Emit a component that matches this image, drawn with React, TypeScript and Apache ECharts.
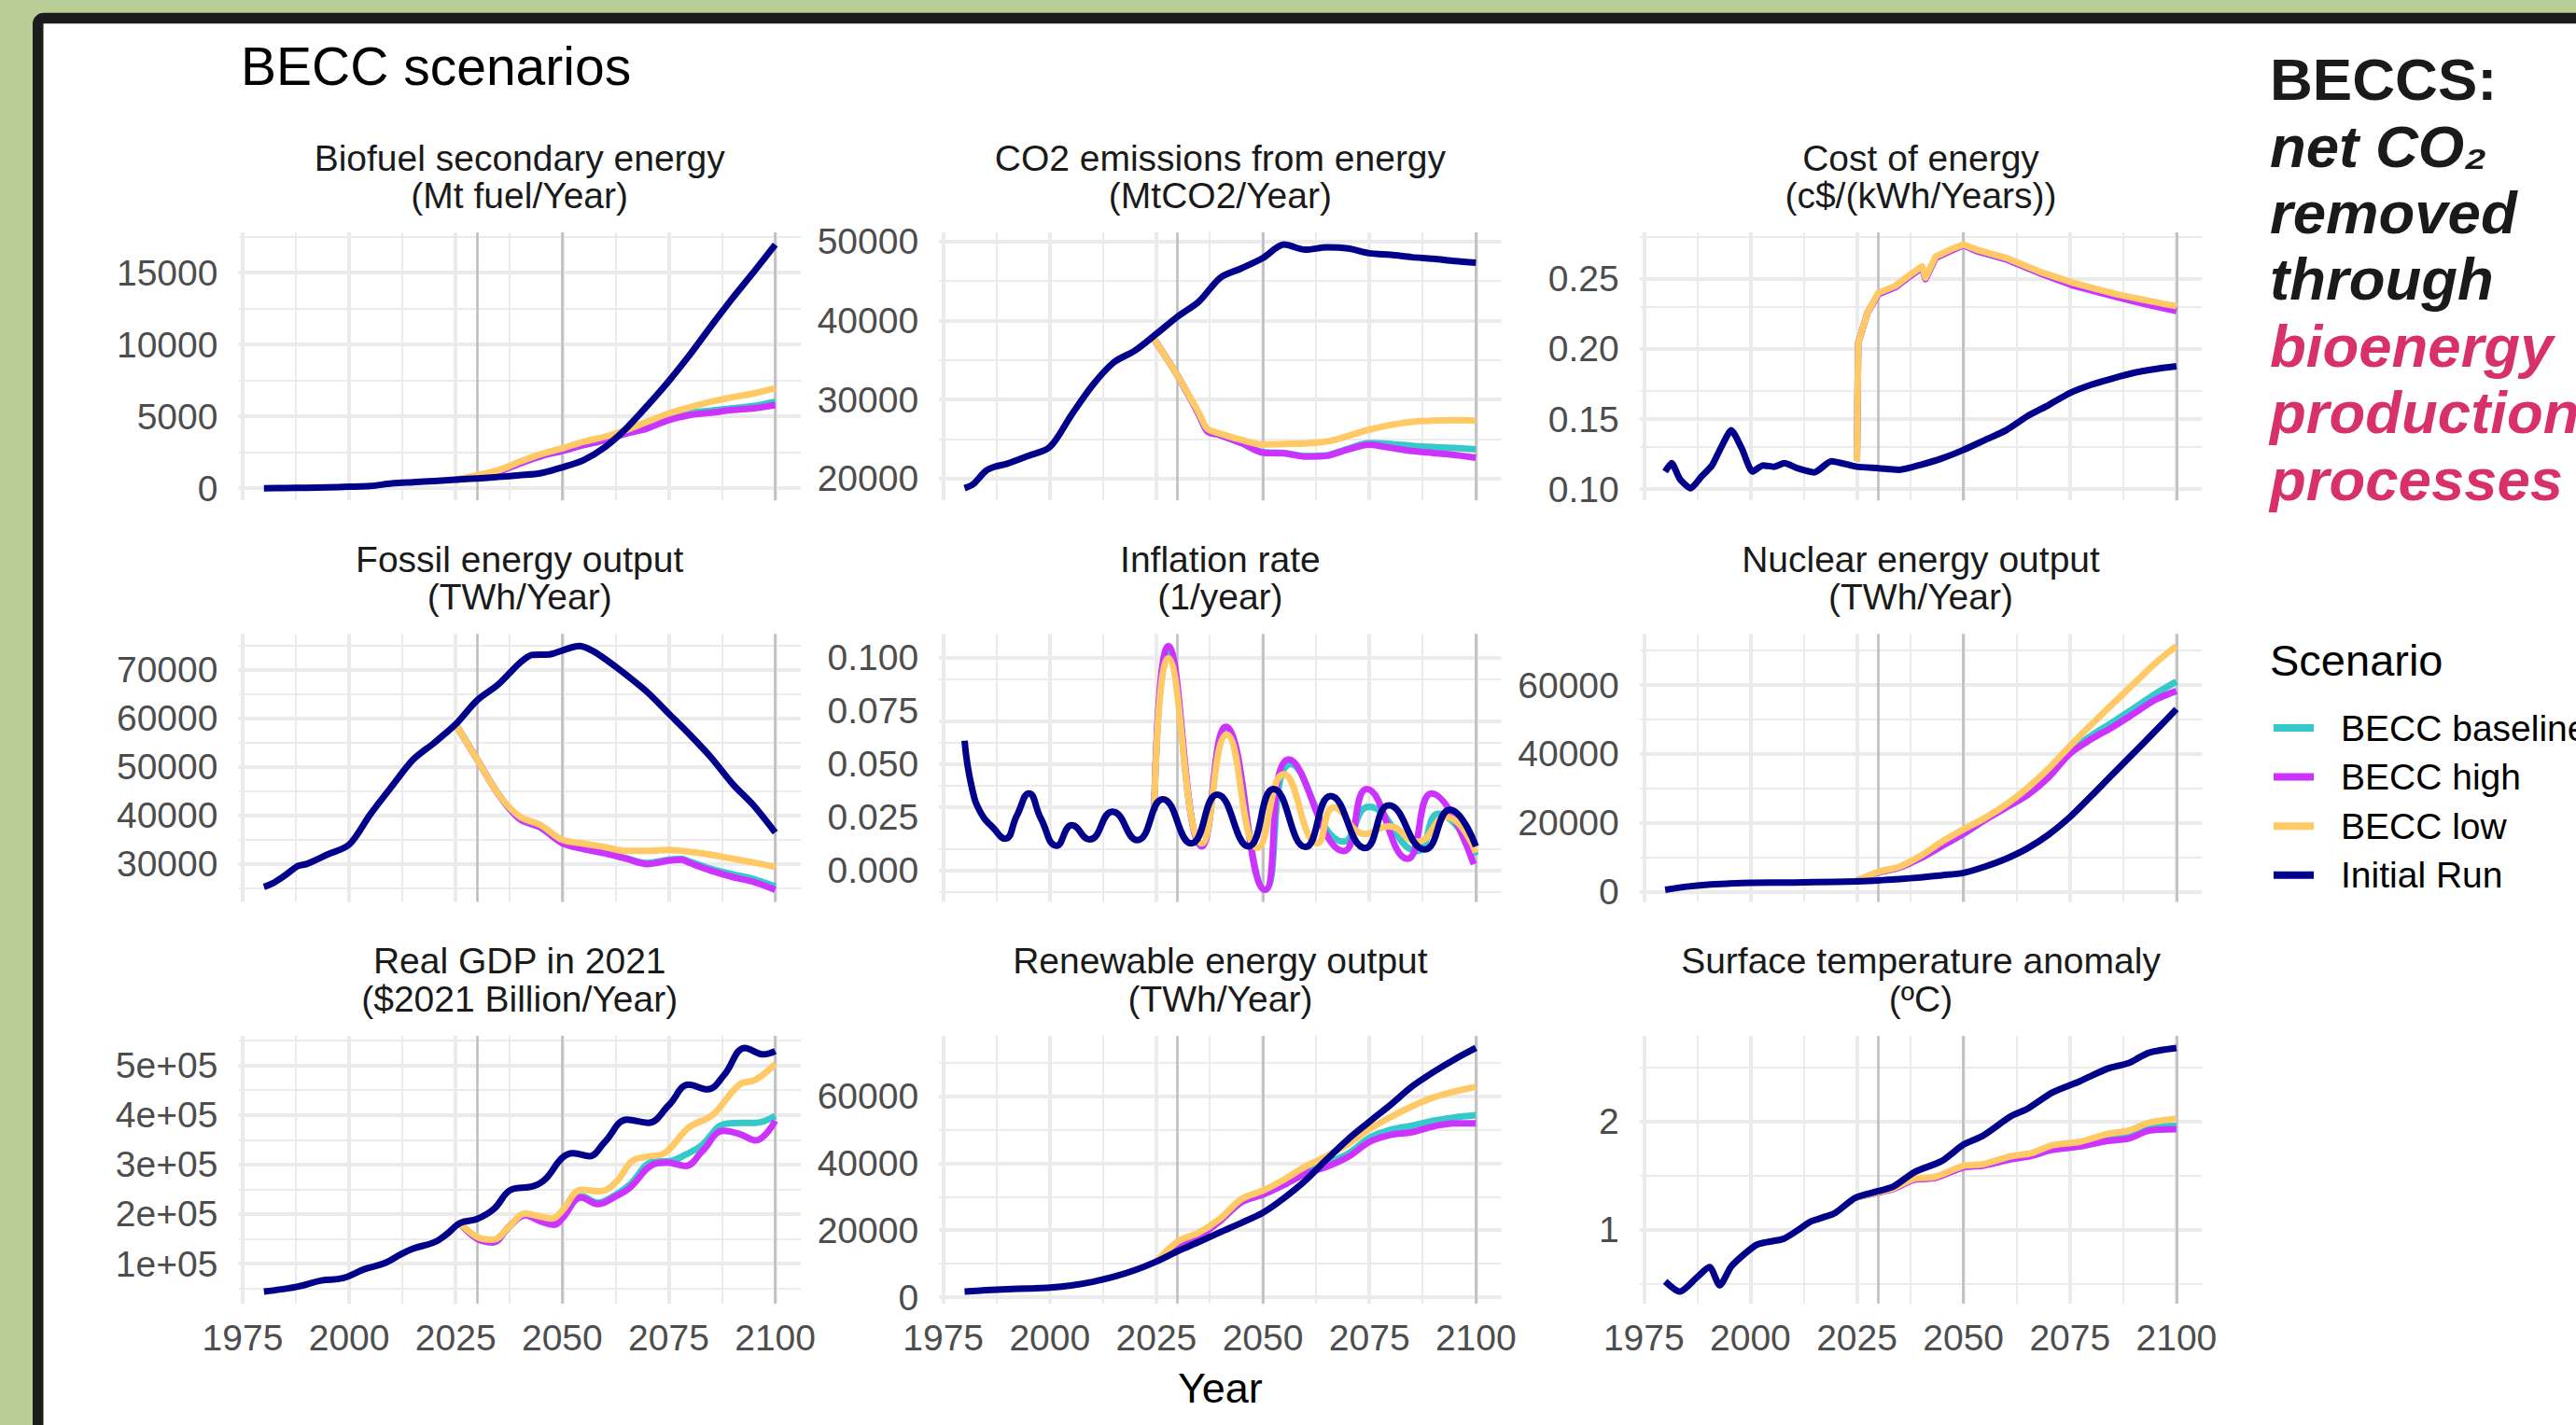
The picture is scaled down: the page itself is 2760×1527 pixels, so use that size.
import React, { useEffect, useRef } from 'react';
import * as echarts from 'echarts';

// ---------------- legend / scenarios ----------------
const SCENARIOS = ['BECC baseline', 'BECC high', 'BECC low', 'Initial Run'];
const COLORS = ['#35c9c9', '#cc33ff', '#ffc966', '#00008b'];

// ---------------- x axis ticks ----------------
const X_MIN = 1974;
const X_MAX = 2106;
const X_MAJOR = [1975, 2000, 2025, 2050, 2075, 2100];
const X_MINOR = [1987.5, 2012.5, 2037.5, 2062.5, 2087.5];
const X_VLINES = [2030, 2050, 2100];

// ---------------- Biofuel secondary energy ----------------
const bioInitYears = [1980, 1985, 1990, 1995, 2000, 2005, 2010, 2015, 2020, 2025, 2030, 2035, 2040, 2045, 2050, 2055, 2060, 2065, 2070, 2075, 2080, 2085, 2090, 2095, 2100];
const bioInit = [0, 10, 30, 60, 100, 150, 330, 420, 500, 600, 680, 780, 900, 1050, 1450, 1950, 2850, 4150, 5750, 7450, 9300, 11300, 13230, 15060, 16950];
const bioScenYears = [2025, 2030, 2035, 2040, 2045, 2050, 2055, 2060, 2065, 2070, 2075, 2080, 2085, 2090, 2095, 2100];
const bioBase = [600, 800, 1140, 1720, 2230, 2600, 3000, 3350, 3800, 4200, 4860, 5250, 5400, 5560, 5720, 6020];
const bioHigh = [600, 800, 1140, 1720, 2230, 2600, 3000, 3350, 3800, 4160, 4740, 5090, 5250, 5440, 5560, 5790];
const bioLow = [600, 900, 1250, 1840, 2370, 2770, 3230, 3580, 4050, 4630, 5200, 5630, 6020, 6330, 6600, 6950];
const bioYMajor = [0, 5000, 10000, 15000];
const bioYMinor = [-2500, 2500, 7500, 12500, 17500];

// ---------------- CO2 emissions from energy ----------------
const co2InitYears = [1980, 1982, 1985, 1987, 1990, 1995, 2000, 2005, 2010, 2015, 2020, 2025, 2030, 2035, 2040, 2045, 2050, 2055, 2060, 2065, 2070, 2075, 2080, 2085, 2090, 2095, 2100];
const co2Init = [18800, 19300, 21000, 21500, 21900, 22900, 24000, 28000, 31800, 34700, 36200, 38300, 40500, 42400, 45400, 46600, 47900, 49600, 48950, 49240, 49100, 48500, 48300, 48000, 47800, 47500, 47300];
const co2ScenYears = [2024.5, 2030, 2035, 2037, 2040, 2045, 2050, 2055, 2060, 2065, 2070, 2075, 2080, 2085, 2090, 2095, 2100];
const co2Base = [37600, 33000, 28100, 26000, 25500, 24500, 23350, 23250, 22850, 22950, 23800, 24500, 24400, 24150, 24000, 23900, 23700];
const co2High = [37600, 33000, 28100, 26000, 25500, 24500, 23300, 23200, 22800, 22900, 23700, 24300, 23900, 23500, 23250, 23000, 22650];
const co2Low = [37600, 33000, 28300, 26300, 25700, 24900, 24330, 24400, 24450, 24700, 25400, 26200, 26800, 27200, 27350, 27400, 27350];
const co2YMajor = [20000, 30000, 40000, 50000];
const co2YMinor = [15000, 25000, 35000, 45000, 55000];

// ---------------- Cost of energy ----------------
const costInitYears = [1980, 1981.5, 1983.5, 1986, 1988.5, 1991, 1993, 1995.5, 1998, 2000.5, 2003, 2005.5, 2008, 2011, 2015, 2019, 2025, 2030, 2035, 2040, 2045, 2050, 2055, 2060, 2065, 2070, 2075, 2080, 2085, 2090, 2095, 2100];
const costInit = [0.1126, 0.1186, 0.107, 0.1007, 0.109, 0.117, 0.129, 0.142, 0.129, 0.1126, 0.117, 0.116, 0.1186, 0.115, 0.112, 0.12, 0.116, 0.115, 0.1138, 0.1174, 0.122, 0.128, 0.135, 0.142, 0.152, 0.16, 0.1686, 0.1745, 0.179, 0.183, 0.1857, 0.1876];
const costScenYears = [2025, 2025.3, 2027.5, 2030, 2034, 2037, 2040.3, 2041.1, 2043.5, 2047, 2050, 2053, 2060, 2068, 2076, 2086, 2094, 2100];
const costBase = [0.12, 0.204, 0.226, 0.239, 0.244, 0.251, 0.258, 0.25, 0.265, 0.27, 0.274, 0.27, 0.264, 0.254, 0.246, 0.238, 0.232, 0.228];
const costHigh = [0.12, 0.204, 0.226, 0.239, 0.244, 0.251, 0.258, 0.25, 0.265, 0.27, 0.274, 0.27, 0.264, 0.254, 0.245, 0.237, 0.231, 0.227];
const costLow = [0.12, 0.204, 0.226, 0.24, 0.245, 0.252, 0.259, 0.251, 0.266, 0.271, 0.2745, 0.271, 0.265, 0.255, 0.247, 0.239, 0.234, 0.2305];
const costYMajor = [0.1, 0.15, 0.2, 0.25];
const costYMinor = [0.075, 0.125, 0.175, 0.225, 0.275];

// ---------------- Fossil energy output ----------------
const fossilInitYears = [1980, 1982, 1985, 1988, 1990, 1995, 2000, 2005, 2010, 2015, 2020, 2025, 2030, 2035, 2040, 2043, 2047, 2050, 2054, 2057, 2060, 2065, 2070, 2075, 2080, 2085, 2090, 2095, 2100];
const fossilInit = [25300, 26000, 27700, 29600, 30000, 32000, 34000, 40300, 46000, 51500, 55000, 58800, 63700, 67000, 71400, 73100, 73200, 74000, 74900, 74000, 72300, 69000, 65400, 61000, 56600, 51900, 46500, 42000, 36500];
const fossilScenYears = [2025, 2030, 2035, 2040, 2045, 2050, 2055, 2060, 2065, 2070, 2075, 2078, 2080, 2085, 2090, 2095, 2100];
const fossilBase = [58800, 51600, 44400, 39300, 37500, 34400, 33200, 32300, 31200, 30200, 30900, 31100, 30500, 29000, 27900, 26900, 25400];
const fossilHigh = [58800, 51600, 44400, 39300, 37500, 34300, 33100, 32200, 31100, 30000, 30700, 30900, 30200, 28600, 27300, 26300, 24700];
const fossilLow = [58800, 51600, 44400, 39800, 38000, 35000, 34200, 33500, 32700, 32700, 32900, 32700, 32500, 31900, 31100, 30300, 29400];
const fossilYMajor = [30000, 40000, 50000, 60000, 70000];
const fossilYMinor = [25000, 35000, 45000, 55000, 65000, 75000];

// ---------------- Inflation rate ----------------
const inflInitYears = [1980, 1981.7, 1983.9, 1986.7, 1989.5, 1992.3, 1995.1, 1997.9, 2001.6, 2005.2, 2009.3, 2014.7, 2020.5, 2026.5, 2033.2, 2039.3, 2046.6, 2052.5, 2060, 2065.9, 2074, 2079.6, 2088, 2093.9, 2100];
const inflInit = [0.061, 0.039, 0.0267, 0.0201, 0.015, 0.026, 0.0362, 0.0245, 0.0117, 0.0213, 0.0146, 0.0277, 0.0143, 0.0335, 0.0128, 0.0357, 0.0114, 0.0383, 0.0111, 0.035, 0.0106, 0.0306, 0.0099, 0.0286, 0.0114];
const inflBaseYears = [2024.5, 2027.8, 2035.7, 2041.4, 2050.6, 2056.6, 2069, 2074.9, 2086.2, 2091.2, 2100];
const inflBase = [0.028, 0.103, 0.012, 0.066, -0.009, 0.05, 0.0136, 0.03, 0.0092, 0.0267, 0.007];
const inflHighYears = [2024.5, 2027.8, 2035.7, 2041.3, 2050.5, 2056.1, 2069, 2074.4, 2083.9, 2089.6, 2099.5];
const inflHigh = [0.028, 0.1054, 0.0114, 0.0675, -0.009, 0.0522, 0.0092, 0.0383, 0.0055, 0.0362, 0.003];
const inflLowYears = [2024.5, 2027.8, 2035.7, 2041.5, 2048.8, 2054.9, 2062.8, 2066.7, 2074, 2079.5, 2086.2, 2093, 2100];
const inflLow = [0.028, 0.0996, 0.0128, 0.0638, 0.0106, 0.0452, 0.0128, 0.0296, 0.0172, 0.0208, 0.0136, 0.0252, 0.0085];
const inflYMajor = [0, 0.025, 0.05, 0.075, 0.1];
const inflYMinor = [-0.0125, 0.0125, 0.0375, 0.0625, 0.0875, 0.1125];

// ---------------- Nuclear energy output ----------------
const nucInitYears = [1980, 1985, 1990, 1995, 2000, 2010, 2020, 2025, 2030, 2035, 2040, 2045, 2050, 2055, 2060, 2065, 2070, 2075, 2080, 2085, 2090, 2095, 2100];
const nucInit = [600, 1500, 2100, 2400, 2600, 2700, 2900, 3050, 3300, 3700, 4200, 4800, 5500, 7300, 9600, 12600, 16600, 21700, 27800, 34100, 40300, 46600, 53000];
const nucScenYears = [2025, 2030, 2035, 2040, 2045, 2050, 2055, 2060, 2065, 2070, 2075, 2080, 2085, 2090, 2095, 2100];
const nucBase = [3200, 5600, 7000, 9800, 13300, 16800, 20900, 24600, 28300, 33700, 40800, 45300, 49200, 53300, 57400, 61000];
const nucHigh = [3200, 5600, 7000, 9800, 13300, 16800, 20800, 24400, 28000, 33200, 40100, 44300, 47800, 51700, 55700, 58300];
const nucLow = [3200, 5800, 7300, 10500, 14600, 18100, 21400, 25300, 30100, 35800, 42300, 48500, 54500, 60400, 66300, 71300];
const nucYMajor = [0, 20000, 40000, 60000];
const nucYMinor = [-10000, 10000, 30000, 50000, 70000];

// ---------------- Real GDP in 2021 ----------------
const gdpInitYears = [1980, 1984, 1988, 1993.5, 1998.5, 2003.5, 2008.5, 2012, 2015, 2020, 2023, 2026, 2030, 2034, 2038, 2043, 2046, 2050, 2052.6, 2056.4, 2060, 2065.2, 2070.2, 2075, 2079.7, 2084.1, 2088, 2092.9, 2097.3, 2100];
const gdpInit = [43400, 48000, 53500, 65900, 70400, 88400, 101300, 118000, 130200, 143100, 160000, 181700, 190000, 210600, 249000, 255600, 270000, 313500, 323000, 316700, 345600, 390600, 384200, 419600, 461400, 451700, 480600, 535300, 522400, 528900];
const gdpBaseYears = [2026, 2030, 2033.7, 2037.5, 2041.3, 2045, 2048.2, 2050, 2054.5, 2058.3, 2062.7, 2065.8, 2071.5, 2075.3, 2079, 2082.8, 2087.8, 2091.6, 2095.4, 2100];
const gdpBase = [181700, 150500, 143000, 174000, 197700, 186000, 180000, 193000, 236000, 223000, 240000, 258800, 305800, 307000, 320000, 339000, 381000, 384200, 384200, 398000];
const gdpHighYears = [2026, 2030, 2033.7, 2037.5, 2041.3, 2045, 2048.2, 2050, 2054.5, 2058.3, 2062.7, 2065.8, 2071.5, 2074.6, 2079, 2082.8, 2087.8, 2091.6, 2095.4, 2100];
const gdpHigh = [181700, 150500, 143000, 174000, 197700, 185000, 178400, 191300, 233100, 220200, 236300, 252400, 300600, 304000, 297000, 326000, 368000, 361700, 348800, 388000];
const gdpLowYears = [2026, 2030, 2033.7, 2037.5, 2041.3, 2045, 2047.6, 2050, 2054.5, 2058.9, 2062.7, 2066.4, 2070, 2074, 2079.7, 2085.3, 2091.6, 2095.4, 2100];
const gdpLow = [181700, 154000, 148000, 174000, 201000, 194500, 191000, 207000, 249000, 246000, 265000, 307000, 316000, 323000, 374600, 400300, 461400, 471000, 503000];
const gdpYMajor = [100000, 200000, 300000, 400000, 500000];
const gdpYMinor = [50000, 150000, 250000, 350000, 450000, 550000];

// ---------------- Renewable energy output ----------------
const renInitYears = [1980, 1985, 1990, 1995, 2000, 2005, 2010, 2015, 2020, 2025, 2030, 2035, 2040, 2045, 2050, 2055, 2060, 2065, 2070, 2075, 2080, 2085, 2090, 2095, 2100];
const renInit = [1700, 2100, 2400, 2650, 2880, 3500, 4600, 6100, 8100, 10650, 13730, 16500, 19400, 22200, 25200, 29600, 34800, 41100, 47100, 52300, 57400, 62800, 67100, 70900, 74300];
const renScenYears = [2025, 2030, 2035, 2040, 2045, 2050, 2055, 2060, 2065, 2070, 2075, 2080, 2085, 2090, 2095, 2100];
const renBase = [10650, 15500, 18100, 22800, 28400, 30600, 33800, 37400, 39900, 42800, 47500, 49900, 51150, 52600, 53600, 54250];
const renHigh = [10650, 15500, 18100, 22800, 28400, 30600, 33500, 36800, 38900, 41800, 46300, 48400, 49200, 50900, 51800, 51850];
const renLow = [10650, 16600, 19300, 23500, 29300, 31800, 35100, 39000, 42100, 45700, 50100, 53700, 56900, 59500, 61300, 62700];
const renYMajor = [0, 20000, 40000, 60000];
const renYMinor = [10000, 30000, 50000, 70000];

// ---------------- Surface temperature anomaly ----------------
const tempInitYears = [1980, 1983.4, 1987.5, 1990.4, 1992.8, 1995.6, 2001.2, 2003.7, 2007.7, 2011, 2014.2, 2017, 2019.9, 2024.7, 2029.9, 2033.6, 2038.5, 2044.9, 2050.1, 2054.7, 2061.1, 2065.2, 2070.9, 2077.3, 2083.8, 2088.7, 2093.5, 2100];
const tempInit = [0.52, 0.426, 0.559, 0.653, 0.485, 0.662, 0.853, 0.882, 0.912, 0.99, 1.074, 1.11, 1.153, 1.294, 1.353, 1.397, 1.529, 1.632, 1.785, 1.868, 2.044, 2.118, 2.265, 2.368, 2.485, 2.535, 2.632, 2.676];
const tempScenYears = [2024.7, 2029.9, 2033.6, 2038.5, 2043.3, 2050.1, 2054.7, 2061.1, 2066, 2070.9, 2077.3, 2083.8, 2088.7, 2093.5, 2100];
const tempBase = [1.294, 1.341, 1.377, 1.462, 1.478, 1.578, 1.594, 1.655, 1.688, 1.745, 1.778, 1.835, 1.858, 1.94, 1.956];
const tempHigh = [1.294, 1.34, 1.375, 1.46, 1.475, 1.574, 1.59, 1.647, 1.68, 1.735, 1.765, 1.818, 1.838, 1.912, 1.926];
const tempLow = [1.294, 1.344, 1.382, 1.47, 1.485, 1.588, 1.603, 1.676, 1.706, 1.779, 1.809, 1.882, 1.912, 1.985, 2.024];
const tempYMajor = [1, 2];
const tempYMinor = [0.5, 1.5, 2.5];

// ---------------- formatting ----------------
const fmtPlain = (v: number) => String(v);
const fmt2 = (v: number) => v.toFixed(2);
const fmt3 = (v: number) => v.toFixed(3);
const fmtSci = (v: number) => v.toExponential(0).replace(/e\+(\d)$/, 'e+0$1');

type Panel = {
  title: string;
  series: [number[], number[]][];
  yMajor: number[];
  yMinor: number[];
  fmt: (v: number) => string;
  smooth: (number | boolean)[];
};

const panels: Panel[] = [
  { title: 'Biofuel secondary energy\n(Mt fuel/Year)', series: [[bioScenYears, bioBase], [bioScenYears, bioHigh], [bioScenYears, bioLow], [bioInitYears, bioInit]], yMajor: bioYMajor, yMinor: bioYMinor, fmt: fmtPlain, smooth: [0.3, 0.3, 0.3, 0.3] },
  { title: 'CO2 emissions from energy\n(MtCO2/Year)', series: [[co2ScenYears, co2Base], [co2ScenYears, co2High], [co2ScenYears, co2Low], [co2InitYears, co2Init]], yMajor: co2YMajor, yMinor: co2YMinor, fmt: fmtPlain, smooth: [0.3, 0.3, 0.3, 0.3] },
  { title: 'Cost of energy\n(c$/(kWh/Years))', series: [[costScenYears, costBase], [costScenYears, costHigh], [costScenYears, costLow], [costInitYears, costInit]], yMajor: costYMajor, yMinor: costYMinor, fmt: fmt2, smooth: [false, false, false, 0.2] },
  { title: 'Fossil energy output\n(TWh/Year)', series: [[fossilScenYears, fossilBase], [fossilScenYears, fossilHigh], [fossilScenYears, fossilLow], [fossilInitYears, fossilInit]], yMajor: fossilYMajor, yMinor: fossilYMinor, fmt: fmtPlain, smooth: [0.3, 0.3, 0.3, 0.3] },
  { title: 'Inflation rate\n(1/year)', series: [[inflBaseYears, inflBase], [inflHighYears, inflHigh], [inflLowYears, inflLow], [inflInitYears, inflInit]], yMajor: inflYMajor, yMinor: inflYMinor, fmt: fmt3, smooth: [0.5, 0.5, 0.5, 0.5] },
  { title: 'Nuclear energy output\n(TWh/Year)', series: [[nucScenYears, nucBase], [nucScenYears, nucHigh], [nucScenYears, nucLow], [nucInitYears, nucInit]], yMajor: nucYMajor, yMinor: nucYMinor, fmt: fmtPlain, smooth: [0.3, 0.3, 0.3, 0.3] },
  { title: 'Real GDP in 2021\n($2021 Billion/Year)', series: [[gdpBaseYears, gdpBase], [gdpHighYears, gdpHigh], [gdpLowYears, gdpLow], [gdpInitYears, gdpInit]], yMajor: gdpYMajor, yMinor: gdpYMinor, fmt: fmtSci, smooth: [0.4, 0.4, 0.4, 0.4] },
  { title: 'Renewable energy output\n(TWh/Year)', series: [[renScenYears, renBase], [renScenYears, renHigh], [renScenYears, renLow], [renInitYears, renInit]], yMajor: renYMajor, yMinor: renYMinor, fmt: fmtPlain, smooth: [0.3, 0.3, 0.3, 0.3] },
  { title: 'Surface temperature anomaly\n(ºC)', series: [[tempScenYears, tempBase], [tempScenYears, tempHigh], [tempScenYears, tempLow], [tempInitYears, tempInit]], yMajor: tempYMajor, yMinor: tempYMinor, fmt: fmtPlain, smooth: [0.25, 0.25, 0.25, 0.25] },
];

// ---------------- layout ----------------
const FONT = 'Liberation Sans';
const COL_LEFT = [255.4, 1006.1, 1756.7];
const ROW_TOP = [249, 679.3, 1109.9];
const PLOT_W = 602.6;
const PLOT_H = 287.2;
const GRID_COLOR = '#ebebeb';
const VLINE_COLOR = '#bdbdbd';
const AXIS_TEXT = '#4d4d4d';
const LINE_W = 7;

function buildOption() {
  const grid: any[] = [];
  const xAxis: any[] = [];
  const yAxis: any[] = [];
  const series: any[] = [];
  const title: any[] = [];

  panels.forEach((p, i) => {
    const col = i % 3;
    const row = Math.floor(i / 3);
    const left = COL_LEFT[col];
    const top = ROW_TOP[row];
    grid.push({ left, top, width: PLOT_W, height: PLOT_H, containLabel: false });

    let lo = Infinity;
    let hi = -Infinity;
    p.series.forEach(([, ys]) => ys.forEach((v) => { lo = Math.min(lo, v); hi = Math.max(hi, v); }));
    const pad = (hi - lo) * 0.05;
    const yMin = lo - pad;
    const yMax = hi + pad;

    const xa: any = {
      type: 'value', gridIndex: i, min: X_MIN, max: X_MAX,
      axisLine: { show: false }, axisTick: { show: false }, splitLine: { show: false },
      axisLabel: {
        show: row === 2, customValues: X_MAJOR, formatter: fmtPlain,
        fontSize: 39, color: AXIS_TEXT, margin: 17, fontFamily: FONT,
      },
    };
    if (i === 7) {
      xa.name = 'Year';
      xa.nameLocation = 'middle';
      xa.nameGap = 68;
      xa.nameTextStyle = { fontSize: 45, color: '#000000', fontFamily: FONT };
    }
    xAxis.push(xa);

    yAxis.push({
      type: 'value', gridIndex: i, min: yMin, max: yMax,
      axisLine: { show: false }, axisTick: { show: false }, splitLine: { show: false },
      axisLabel: {
        customValues: p.yMajor, formatter: p.fmt,
        fontSize: 39, color: AXIS_TEXT, margin: 22, fontFamily: FONT,
      },
    });

    const inY = (v: number) => v >= yMin && v <= yMax;
    const lines: any[] = [
      ...p.yMinor.filter(inY).map((v) => ({ yAxis: v, lineStyle: { color: GRID_COLOR, width: 2, type: 'solid' } })),
      ...p.yMajor.filter(inY).map((v) => ({ yAxis: v, lineStyle: { color: GRID_COLOR, width: 4, type: 'solid' } })),
      ...X_MINOR.map((v) => ({ xAxis: v, lineStyle: { color: GRID_COLOR, width: 2, type: 'solid' } })),
      ...X_MAJOR.map((v) => ({ xAxis: v, lineStyle: { color: GRID_COLOR, width: 4, type: 'solid' } })),
      ...X_VLINES.map((v) => ({ xAxis: v, lineStyle: { color: VLINE_COLOR, width: 2.5, type: 'solid' } })),
    ];
    series.push({
      type: 'line', name: 'gridlines', xAxisIndex: i, yAxisIndex: i,
      data: [[2100, (yMin + yMax) / 2]], showSymbol: false, symbol: 'none',
      lineStyle: { opacity: 0, width: 0 }, silent: true, z: 1,
      markLine: {
        silent: true, symbol: ['none', 'none'], label: { show: false },
        lineStyle: { type: 'solid' }, emphasis: { disabled: true }, animation: false,
        data: lines,
      },
    });

    p.series.forEach(([xs, ys], k) => {
      series.push({
        type: 'line', name: SCENARIOS[k], xAxisIndex: i, yAxisIndex: i,
        data: xs.map((x, j) => [x, ys[j]]),
        showSymbol: false, symbol: 'none', smooth: p.smooth[k],
        lineStyle: { color: COLORS[k], width: LINE_W, cap: 'butt', join: 'round' },
        itemStyle: { color: COLORS[k] },
        z: 10 + k, silent: true, emphasis: { disabled: true },
      });
    });

    title.push({
      text: p.title, left: left + PLOT_W / 2, top: top - 100.25, textAlign: 'center', padding: 0,
      textStyle: { fontSize: 39, lineHeight: 40.5, color: '#1a1a1a', fontWeight: 'normal', fontFamily: FONT },
    });
  });

  title.push({
    text: 'BECC scenarios', left: 258, top: 42, padding: 0,
    textStyle: { fontSize: 57, lineHeight: 57, color: '#000000', fontWeight: 'normal', fontFamily: FONT },
  });
  title.push({
    text: 'Scenario', left: 2432, top: 684, padding: 0,
    textStyle: { fontSize: 47, lineHeight: 47, color: '#000000', fontWeight: 'normal', fontFamily: FONT },
  });
  const big = { fontSize: 63.5, lineHeight: 71.4, fontWeight: 'bold', fontFamily: FONT };
  title.push({
    text: '{b|BECCS:}\n{bi|net CO₂}\n{bi|removed}\n{bi|through}\n{p|bioenergy}\n{p|production}\n{p|processes}',
    left: 2432, top: 49.6, padding: 0,
    textStyle: {
      rich: {
        b: { ...big, color: '#1a1a1a' },
        bi: { ...big, color: '#1a1a1a', fontStyle: 'italic' },
        p: { ...big, color: '#d7306a', fontStyle: 'italic' },
      },
    },
  });

  return {
    animation: false,
    backgroundColor: '#b8ce96',
    textStyle: { fontFamily: FONT },
    graphic: [
      {
        type: 'rect', z: 0, silent: true,
        shape: { x: 40.75, y: 19.5, width: 3000, height: 2000, r: 6 },
        style: { fill: '#ffffff', stroke: '#1c1c1c', lineWidth: 11.5 },
      },
    ],
    title,
    legend: {
      data: SCENARIOS, orient: 'vertical', left: 2436, top: 760, padding: 0,
      itemWidth: 43, itemHeight: 8, itemGap: 12.6, icon: 'rect', selectedMode: false,
      textStyle: { fontSize: 39, lineHeight: 40, color: '#000000', fontFamily: FONT, padding: [0, 0, 0, 24] },
    },
    grid,
    xAxis,
    yAxis,
    series,
  };
}

export default function App() {
  const ref = useRef<HTMLDivElement>(null);
  useEffect(() => {
    if (!ref.current) return;
    const chart = echarts.init(ref.current, undefined, { renderer: 'svg' });
    chart.setOption(buildOption() as any);
    return () => chart.dispose();
  }, []);
  return (
    <div
      ref={ref}
      style={{ position: 'fixed', left: 0, top: 0, width: 2760, height: 1527 }}
    />
  );
}
